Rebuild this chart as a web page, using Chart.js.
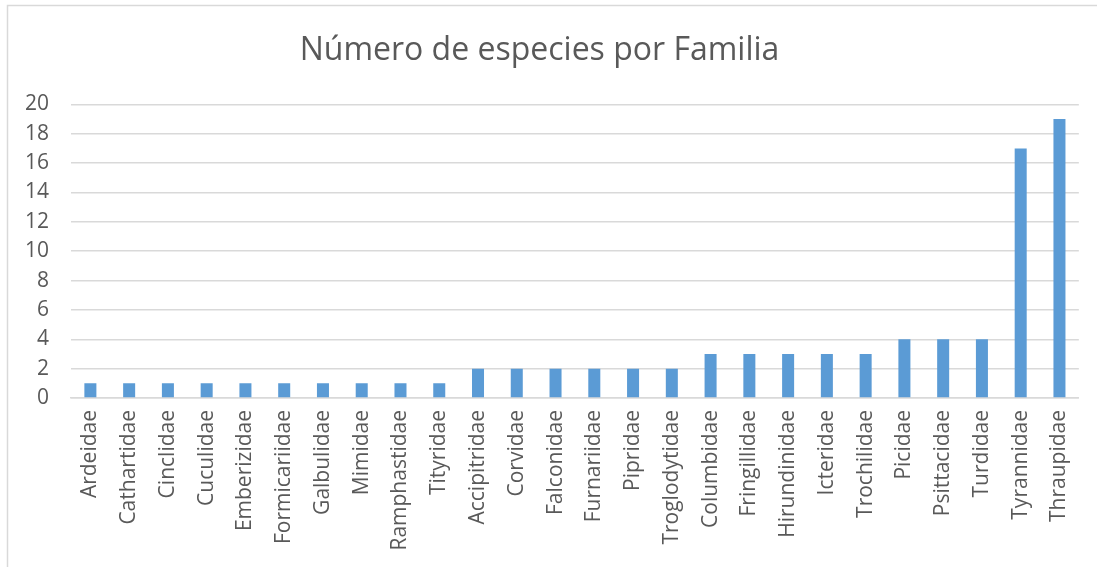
<!DOCTYPE html>
<html>
<head>
<meta charset="utf-8">
<script src="https://cdn.jsdelivr.net/npm/chart.js@4/dist/chart.umd.min.js"></script>
<style>
  html, body { margin: 0; padding: 0; background: #fff; }
  #wrap { width: 1097px; height: 567px; position: relative; }
</style>
</head>
<body>
<div id="wrap"><canvas id="chart" width="1097" height="567"></canvas></div>
<script>
const families = ['Ardeidae', 'Cathartidae', 'Cinclidae', 'Cuculidae', 'Emberizidae', 'Formicariidae',
    'Galbulidae', 'Mimidae', 'Ramphastidae', 'Tityridae', 'Accipitridae', 'Corvidae', 'Falconidae',
    'Furnariidae', 'Pipridae', 'Troglodytidae', 'Columbidae', 'Fringillidae', 'Hirundinidae',
    'Icteridae', 'Trochilidae', 'Picidae', 'Psittacidae', 'Turdidae', 'Tyrannidae', 'Thraupidae'];
const speciesCount = [1, 1, 1, 1, 1, 1, 1, 1, 1, 1, 2, 2, 2, 2, 2, 2, 3, 3, 3, 3, 3, 4, 4, 4, 17, 19];
const yTicks = [0, 2, 4, 6, 8, 10, 12, 14, 16, 18, 20];

const textColor = '#595959';
const fontName = '"Open Sans", sans-serif';

// light frame around the chart, like the office chart box
const frame = {
    id: 'frame',
    afterDraw(chart) {
        const ctx = chart.ctx;
        ctx.save();
        ctx.strokeStyle = '#D9D9D9';
        ctx.lineWidth = 1.5;
        ctx.beginPath();
        ctx.moveTo(7.5, 567);
        ctx.lineTo(7.5, 5.5);
        ctx.lineTo(1097, 5.5);
        ctx.stroke();
        ctx.restore();
    }
};

const ctx = document.getElementById('chart').getContext('2d');
new Chart(ctx, {
    type: 'bar',
    data: {
        labels: families,
        datasets: [{
            label: 'Especies',
            data: speciesCount,
            backgroundColor: '#5B9BD5',
            barPercentage: 1,
            categoryPercentage: 0.31
        }]
    },
    options: {
        responsive: false,
        animation: false,
        layout: { padding: { left: 0, right: 18, top: 0, bottom: 0 } },
        plugins: {
            legend: { display: false },
            tooltip: { enabled: false },
            title: {
                display: true,
                text: 'Número de especies por Familia',
                color: textColor,
                font: { family: fontName, size: 32, weight: 'normal' },
                padding: { top: 32, bottom: 34 }
            }
        },
        scales: {
            x: {
                grid: { display: false, drawTicks: false },
                border: { color: '#D9D9D9', width: 1.5 },
                ticks: {
                    color: textColor,
                    font: { family: fontName, size: 21 },
                    minRotation: 90,
                    maxRotation: 90,
                    autoSkip: false,
                    padding: 12
                },
                afterFit(scale) { scale.height = 169; }
            },
            y: {
                min: 0,
                max: 20,
                afterBuildTicks(scale) { scale.ticks = yTicks.map(v => ({ value: v })); },
                grid: { color: '#D9D9D9', lineWidth: 1.5, drawTicks: false },
                border: { display: false },
                ticks: {
                    color: textColor,
                    font: { family: fontName, size: 21 },
                    padding: 22
                },
                afterFit(scale) { scale.width = 71; }
            }
        }
    },
    plugins: [frame]
});
</script>
</body>
</html>
